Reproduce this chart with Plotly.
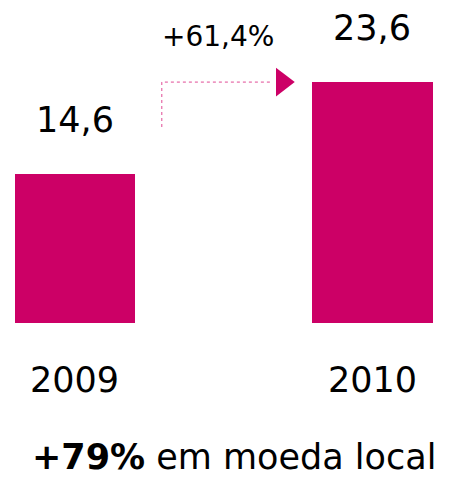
import plotly.graph_objects as go

years = ["2009", "2010"]
values = [14.6, 23.6]
value_labels = ["14,6", "23,6"]
growth_label = "+61,4%"
footer_bold = "+79%"
footer_text = " em moeda local"

BAR = "#CC0066"
FONT = "DejaVu Sans"

xpos = list(range(len(years)))

fig = go.Figure()
fig.add_trace(go.Bar(x=xpos, y=values, marker=dict(color=BAR, line=dict(width=0)),
                     width=0.405, hoverinfo="skip"))

# dashed connector from first bar label area up to second bar level
arrow_x = [0.292, 0.292, 0.665]
arrow_y = [values[0] + 4.6, values[1], values[1]]
fig.add_trace(go.Scatter(x=arrow_x, y=arrow_y, mode="lines",
                         line=dict(color="#E04A95", width=1, dash="dot"),
                         hoverinfo="skip"))
fig.add_trace(go.Scatter(x=[0.697], y=[values[1]], mode="markers",
                         marker=dict(symbol="triangle-right", size=25, color=BAR,
                                     line=dict(width=0)),
                         hoverinfo="skip"))

ann = []
for i, (yr, v, lab) in zip(xpos, zip(years, values, value_labels)):
    ann.append(dict(x=i, y=v, xref="x", yref="y", text=lab, showarrow=False,
                    yanchor="middle", yshift=54, font=dict(family=FONT, size=35, color="black")))
    ann.append(dict(x=i, y=0, xref="x", yref="y", text=yr, showarrow=False,
                    yanchor="middle", yshift=-57, font=dict(family=FONT, size=35, color="black")))
ann.append(dict(x=0.482, y=values[1], xref="x", yref="y", text=growth_label, showarrow=False,
                yanchor="middle", yshift=46, font=dict(family=FONT, size=28, color="black")))
ann.append(dict(x=0.535, y=0, xref="x", yref="y", text=f"<b>{footer_bold}</b>{footer_text}",
                showarrow=False, yanchor="middle", yshift=-134,
                font=dict(family=FONT, size=35, color="black")))

fig.update_layout(
    width=450, height=477,
    margin=dict(l=0, r=0, t=0, b=0),
    paper_bgcolor="white", plot_bgcolor="white",
    showlegend=False,
    bargap=0,
    xaxis=dict(range=[-0.252, 1.261], visible=False),
    yaxis=dict(range=[-15.08, 31.64], visible=False),
    annotations=ann,
)
fig.write_html("out.html", config={"displayModeBar": False},
               post_script="document.body.style.margin='0';document.body.style.overflow='hidden';")
